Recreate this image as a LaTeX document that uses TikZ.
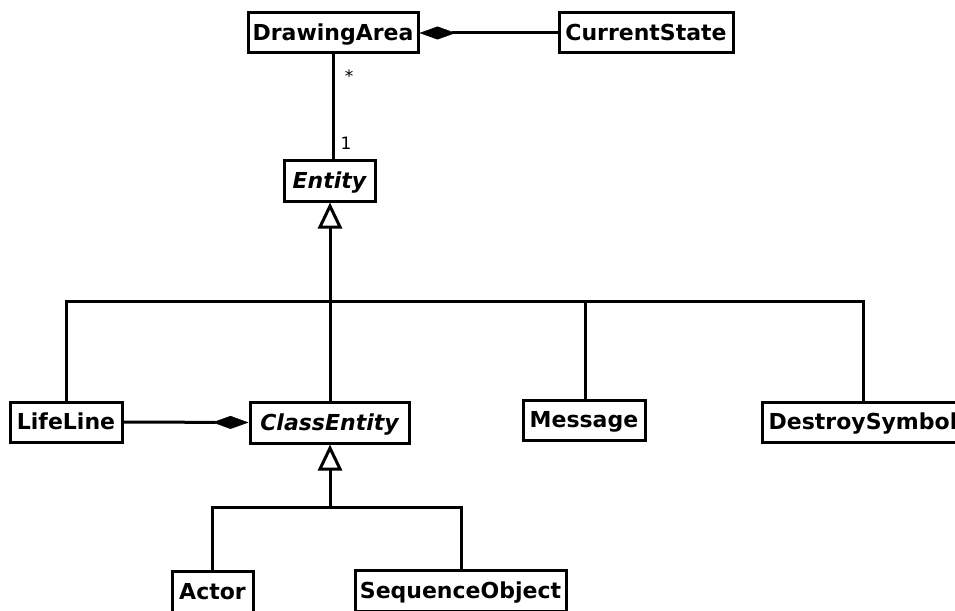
\documentclass[tikz,border=0pt]{standalone}
\usepackage{fontspec}
\setmainfont{DejaVu Sans}
\usetikzlibrary{arrows.meta}
\tikzset{
  cls/.style={draw=black, line width=3pt, fill=white, inner sep=0pt,
    minimum height=40pt, text height=15.5pt, text depth=-3pt,
    font=\fontsize{22}{26}\selectfont\bfseries},
  abs/.style={cls, font=\fontsize{22}{26}\selectfont\bfseries\itshape},
  conn/.style={line width=3pt, draw=black},
  gen/.style={conn, -{Triangle[open, length=26pt, width=24pt, fill=white, line width=3pt]}},
  comp/.style={conn, -{Diamond[length=36pt, width=13pt, fill=black, line width=0.5pt]}},
  mult/.style={font=\fontsize{17}{20}\selectfont, inner sep=0pt}
}
\begin{document}
\begin{tikzpicture}[x=1pt, y=-1pt]
  \useasboundingbox (0,0) rectangle (955,610);

  % classes
  \node[cls, minimum width=170pt] (drawing) at (333,33) {DrawingArea};
  \node[cls, minimum width=174pt] (state) at (646,33) {CurrentState};
  \node[abs, minimum width=91pt, minimum height=41pt] (entity) at (329.5,180.5) {Entity};
  \node[cls, minimum width=112pt] (lifeline) at (66,422) {LifeLine};
  \node[abs, minimum width=159pt, minimum height=41pt] (classent) at (329.5,422.5) {ClassEntity};
  \node[cls, minimum width=122pt] (message) at (584,420) {Message};
  \node[cls, minimum width=202pt] (destroy) at (863,422) {DestroySymbol};
  \node[cls, minimum width=81pt, minimum height=41pt] (actor) at (212.5,591.5) {Actor};
  \node[cls, minimum width=211pt, minimum height=41pt] (seqobj) at (460.5,590.5) {SequenceObject};

  % junction points of the inheritance trees
  \coordinate (bus) at (330,301);
  \coordinate (bus2) at (330,507);

  % compositions
  \draw[comp] (state.west) -- (drawing.east);
  \draw[comp] (lifeline.east) -- (classent.west);

  % association with multiplicities
  \draw[conn] (drawing.south -| 333,0) -- (entity.north -| 333,0);
  \node[mult] (many) at (349,76) {*};
  \node[mult] (one) at (346,143) {1};

  % generalization to Entity
  \draw[conn] (lifeline.north) |- (bus);
  \draw[conn] (message.north -| 585,0) |- (bus);
  \draw[conn] (destroy.north) |- (bus);
  \draw[conn] (classent.north -| bus) -- (bus);
  \draw[gen] (bus) -- (entity.south -| bus);

  % generalization to ClassEntity
  \draw[conn] (actor.north -| 212,0) |- (bus2);
  \draw[conn] (seqobj.north -| 461,0) |- (bus2);
  \draw[gen] (bus2) -- (classent.south -| bus2);
\end{tikzpicture}
\end{document}
